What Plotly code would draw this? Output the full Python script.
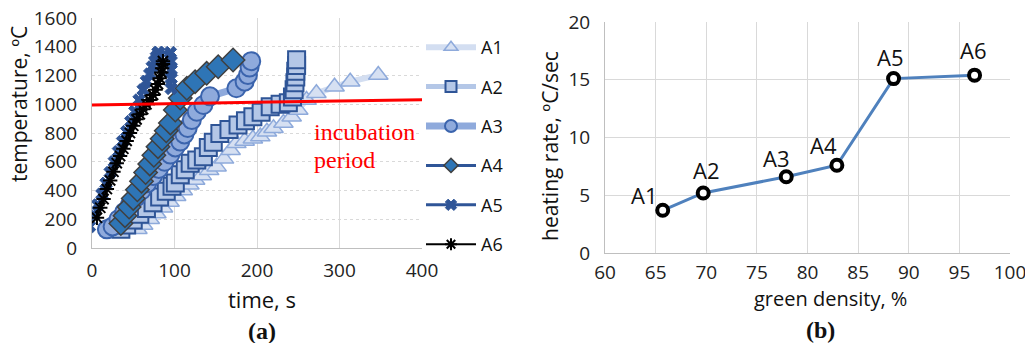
import plotly.graph_objects as go

W, H = 1025, 343

# ---------------- data: chart (a) ----------------
a1_t = [55, 62, 70, 78, 86, 94, 102, 110, 118, 125, 133, 142, 151, 160, 168, 175, 185, 195, 204, 212, 220, 232, 242, 250, 260, 272, 294, 313, 347]
a1_T = [130, 160, 200, 240, 280, 320, 360, 400, 440, 473, 505, 540, 566, 620, 680, 728, 745, 760, 775, 809, 833, 870, 913, 960, 1030, 1076, 1122, 1157, 1203]

a2_t = [35, 42, 50, 58, 66, 74, 82, 90, 97, 101, 107, 113, 119, 127, 135, 141, 147, 155, 166, 177, 186, 195, 205, 216, 228, 238, 243, 245, 246, 247, 247, 248, 248]
a2_T = [130, 160, 195, 235, 275, 315, 355, 395, 430, 452, 510, 545, 590, 612, 635, 700, 735, 797, 825, 855, 885, 913, 945, 983, 1000, 1010, 1050, 1100, 1150, 1190, 1230, 1270, 1310]

a3_t = [18, 25, 32, 39, 46, 53, 60, 67, 74, 81, 88, 95, 101, 107, 112, 116, 121, 127, 135, 143, 175, 185, 189, 191, 193]
a3_T = [130, 150, 200, 250, 300, 350, 400, 450, 500, 550, 600, 650, 700, 740, 790, 835, 890, 948, 995, 1055, 1111, 1157, 1203, 1255, 1300]

a4_t = [35, 40, 45, 50, 55, 60, 65, 70, 75, 80, 85, 90, 95, 101, 107, 115, 125, 139, 153, 171]
a4_T = [170, 225, 285, 345, 405, 465, 525, 585, 645, 705, 760, 815, 870, 960, 1043, 1111, 1157, 1215, 1261, 1308]

a5_t = [-3, 2, 7, 12, 17, 22, 27, 32, 37, 42, 47, 52, 57, 62, 66, 70, 73, 76, 78, 80, 81, 95, 96, 96, 96, 96]
a5_T = [150, 230, 300, 375, 450, 525, 600, 670, 740, 810, 880, 950, 1030, 1100, 1160, 1210, 1260, 1300, 1330, 1360, 1360, 1360, 1300, 1240, 1180, 1110]

a6_t = [6, 10, 14, 18, 22, 26, 30, 34, 38, 42, 46, 50, 54, 58, 62, 66, 70, 74, 77, 80, 82, 84, 85, 86, 86]
a6_T = [210, 280, 340, 410, 470, 530, 590, 640, 690, 745, 800, 850, 895, 930, 965, 1000, 1030, 1065, 1100, 1140, 1180, 1220, 1250, 1280, 1300]

incub_t = [0, 400]
incub_T = [995, 1032]

# ---------------- data: chart (b) ----------------
labels_b = ["A1", "A2", "A3", "A4", "A5", "A6"]
density = [65.7, 69.7, 77.9, 82.9, 88.5, 96.5]
rate = [3.7, 5.2, 6.6, 7.6, 15.1, 15.4]

x_ticks_a = [0, 100, 200, 300, 400]
y_ticks_a = [0, 200, 400, 600, 800, 1000, 1200, 1400, 1600]
x_ticks_b = [60, 65, 70, 75, 80, 85, 90, 95, 100]
y_ticks_b = [0, 5, 10, 15, 20]

# label placement (pixel offsets from each point) - style only
label_dx = [-18, 3, -10, -13, -3, -1]
label_dy = [15, 23, 19, 20, 22, 25]

FONT = "Open Sans"
fig = go.Figure()

series = [
    ("A1", a1_t, a1_T, dict(color="#d3def1", width=6),
     dict(symbol="triangle-up", size=17, color="#d6e0f2", line=dict(color="#8eaadb", width=1.5)), 12),
    ("A2", a2_t, a2_T, dict(color="#b4c7e7", width=5),
     dict(symbol="square", size=17, color="#b4c7e7", line=dict(color="#2f5597", width=2)), 11),
    ("A3", a3_t, a3_T, dict(color="#8faadc", width=7),
     dict(symbol="circle", size=18, color="#8faadc", line=dict(color="#3b64ad", width=2)), 12),
    ("A4", a4_t, a4_T, dict(color="#2f5597", width=3),
     dict(symbol="diamond", size=18, color="#2e75b6", line=dict(color="#404040", width=1.5)), 11),
    ("A5", a5_t, a5_T, dict(color="#2f5597", width=3),
     dict(symbol="x", size=11, color="#2f5597", line=dict(color="#2f5597", width=1)), 10),
    ("A6", a6_t, a6_T, dict(color="#000000", width=2),
     dict(symbol="asterisk-open", size=12, color="#000000", line=dict(color="#000000", width=2)), 10),
]
for name, t, T, ln, mk, legsize in series:
    fig.add_trace(go.Scatter(x=t, y=T, name=name, mode="lines+markers", line=ln, marker=mk,
                             showlegend=False, xaxis="x", yaxis="y", cliponaxis=True))
for name, t, T, ln, mk, legsize in series:
    legmk = dict(mk)
    legmk["size"] = legsize
    fig.add_trace(go.Scatter(x=[None], y=[None], name=name, mode="lines+markers", line=ln, marker=legmk,
                             legendgroup=name, showlegend=True, xaxis="x", yaxis="y"))

fig.add_trace(go.Scatter(x=incub_t, y=incub_T, mode="lines", line=dict(color="#ff0000", width=3),
                         showlegend=False, xaxis="x", yaxis="y"))

fig.add_trace(go.Scatter(x=density, y=rate, mode="lines+markers",
                         line=dict(color="#4f81bd", width=3),
                         marker=dict(symbol="circle", size=11, color="white", line=dict(color="black", width=4)),
                         showlegend=False, xaxis="x2", yaxis="y2", cliponaxis=False))

for lab, xv, yv, dx, dy in zip(labels_b, density, rate, label_dx, label_dy):
    fig.add_annotation(text=lab, x=xv, y=yv, xref="x2", yref="y2", showarrow=False,
                       xshift=dx, yshift=dy, xanchor="center", yanchor="middle",
                       font=dict(family=FONT, size=22, color="#111"))

tickfont = dict(family=FONT, size=19, color="#222")
common = dict(showline=True, linecolor="#bfbfbf", linewidth=1, zeroline=False, tickfont=tickfont,
              ticks="outside", tickcolor="rgba(0,0,0,0)", automargin=False)

fig.update_layout(
    width=W, height=H, margin=dict(l=0, r=0, t=0, b=0, autoexpand=False),
    paper_bgcolor="white", plot_bgcolor="white",
    font=dict(family=FONT, size=17, color="#222"),
    xaxis=dict(domain=[92 / W, 422 / W], range=[0, 400], tickvals=x_ticks_a, showgrid=True,
               gridcolor="#d9d9d9", ticklen=5, anchor="y", ticklabeloverflow="allow", **common),
    yaxis=dict(domain=[95 / H, 325 / H], range=[0, 1600], tickvals=y_ticks_a, showgrid=True,
               gridcolor="#d9d9d9", griddash="dot", ticklen=10, anchor="x", **common),
    xaxis2=dict(domain=[605 / W, 1010 / W], range=[60, 100], tickvals=x_ticks_b, showgrid=True,
                gridcolor="#d9d9d9", ticklen=2, anchor="y2", ticklabeloverflow="allow", **common),
    yaxis2=dict(domain=[90 / H, 321 / H], range=[0, 20], tickvals=y_ticks_b, showgrid=True,
                gridcolor="#d9d9d9", ticklen=10, anchor="x2", **common),
    legend=dict(x=421 / W, xanchor="left", y=1 - 29 / H, yanchor="top", tracegroupgap=13,
                font=dict(family=FONT, size=18, color="#111"), itemwidth=50,
                itemsizing="trace", bgcolor="rgba(0,0,0,0)"),
    showlegend=True,
)

def ann(text, x, y, size=21, angle=0, color="#111", family=FONT, xanchor="center"):
    fig.add_annotation(text=text, x=x / W, y=1 - y / H, xref="paper", yref="paper", showarrow=False,
                       textangle=angle, font=dict(family=family, size=size, color=color),
                       xanchor=xanchor, yanchor="middle")

ann("temperature, ºC", 19, 104, angle=-90)
ann("time, s", 262, 299, size=22)
ann("<b>(a)</b>", 262, 331, size=24, family="Liberation Serif")
ann("heating rate, ºC/sec", 550, 146, angle=-90)
ann("green density, %", 830, 298, size=20)
ann("<b>(b)</b>", 820, 330, size=24, family="Liberation Serif")
ann("incubation", 312, 132, size=24, color="#ff0000", family="Liberation Serif", xanchor="left")
ann("period", 312, 160, size=24, color="#ff0000", family="Liberation Serif", xanchor="left")

fig.write_html("out.html", config={"displayModeBar": False},
               post_script="document.body.style.margin='0';document.body.style.overflow='hidden';")
